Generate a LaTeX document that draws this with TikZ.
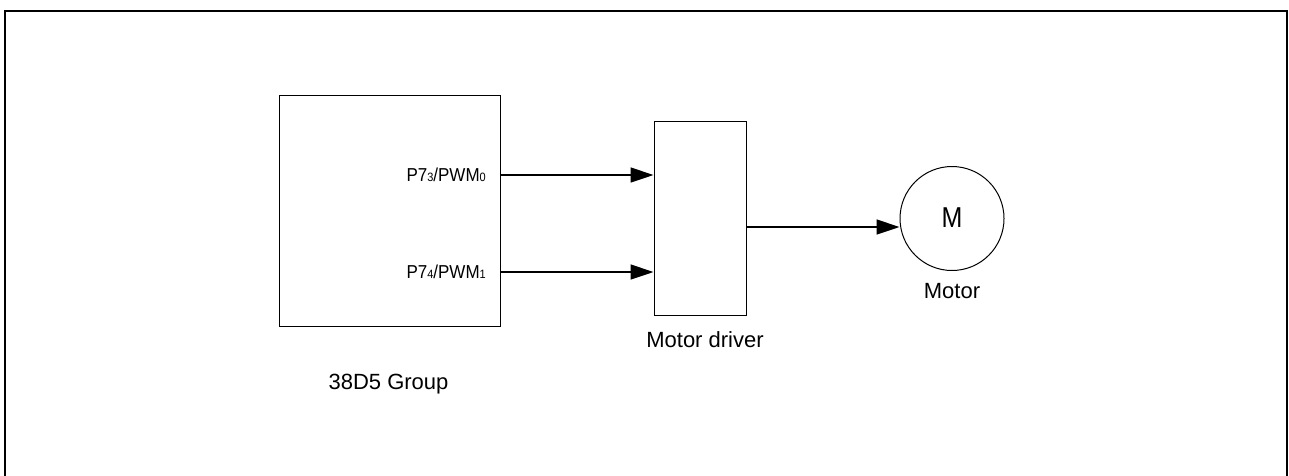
\documentclass[tikz,border=0pt]{standalone}
\usepackage{fontspec}
\setmainfont{Liberation Sans}
\usetikzlibrary{arrows.meta}

\newcommand{\sm}[1]{{\fontsize{11}{11}\selectfont #1}}

\begin{document}
\begin{tikzpicture}
    [   x=1pt, y=-1pt,
        box/.style={draw=black, line width=1pt, minimum width=#1},
        sig/.style={-{Triangle[length=23pt,width=15pt]}, line width=1.4pt},
        txt/.style={font=\fontsize{22}{26}\selectfont, inner sep=0pt, anchor=base},
        pin/.style={font=\fontsize{17}{20}\selectfont, inner sep=0pt, anchor=base east},
    ]
        \useasboundingbox (0,0) rectangle (1289,475);
        % draw the frame
        \draw[line width=1.8pt] (5,11) rectangle (1287,490);

        % draw the boxes
        \node[box=221pt, minimum height=231pt] (mcu) at (389.5,210.5) {};
        \node[box=92pt, minimum height=194pt] (drv) at (700,218) {};
        \node[draw=black, line width=1pt, circle, minimum size=104pt] (motor) at (952,218.5) {};
        \node[font=\fontsize{25}{28}\selectfont, inner sep=0pt, anchor=base] (mlab) at (952,227) {\scalebox{1}[1.15]{M}};

        % draw the labels
        \node[pin] (pwm0) at (486,181) {\scalebox{1}[1.1]{P7\sm{3}/PWM\sm{0}}};
        \node[pin] (pwm1) at (486,278) {\scalebox{1}[1.1]{P7\sm{4}/PWM\sm{1}}};
        \node[txt] (mculab) at (388.5,389) {38D5 Group};
        \node[txt] (drvlab) at (705,347) {Motor driver};
        \node[txt] (motlab) at (952,298) {Motor};

        % draw the lines
        \coordinate (o0) at (500,175);
        \coordinate (o1) at (500,272);
        \coordinate (o2) at (746,227);
        \draw[sig] (o0) -- (o0 -| drv.west);
        \draw[sig] (o1) -- (o1 -| drv.west);
        \draw[sig] (o2) -- (motor.west |- o2);
    \end{tikzpicture}
\end{document}
